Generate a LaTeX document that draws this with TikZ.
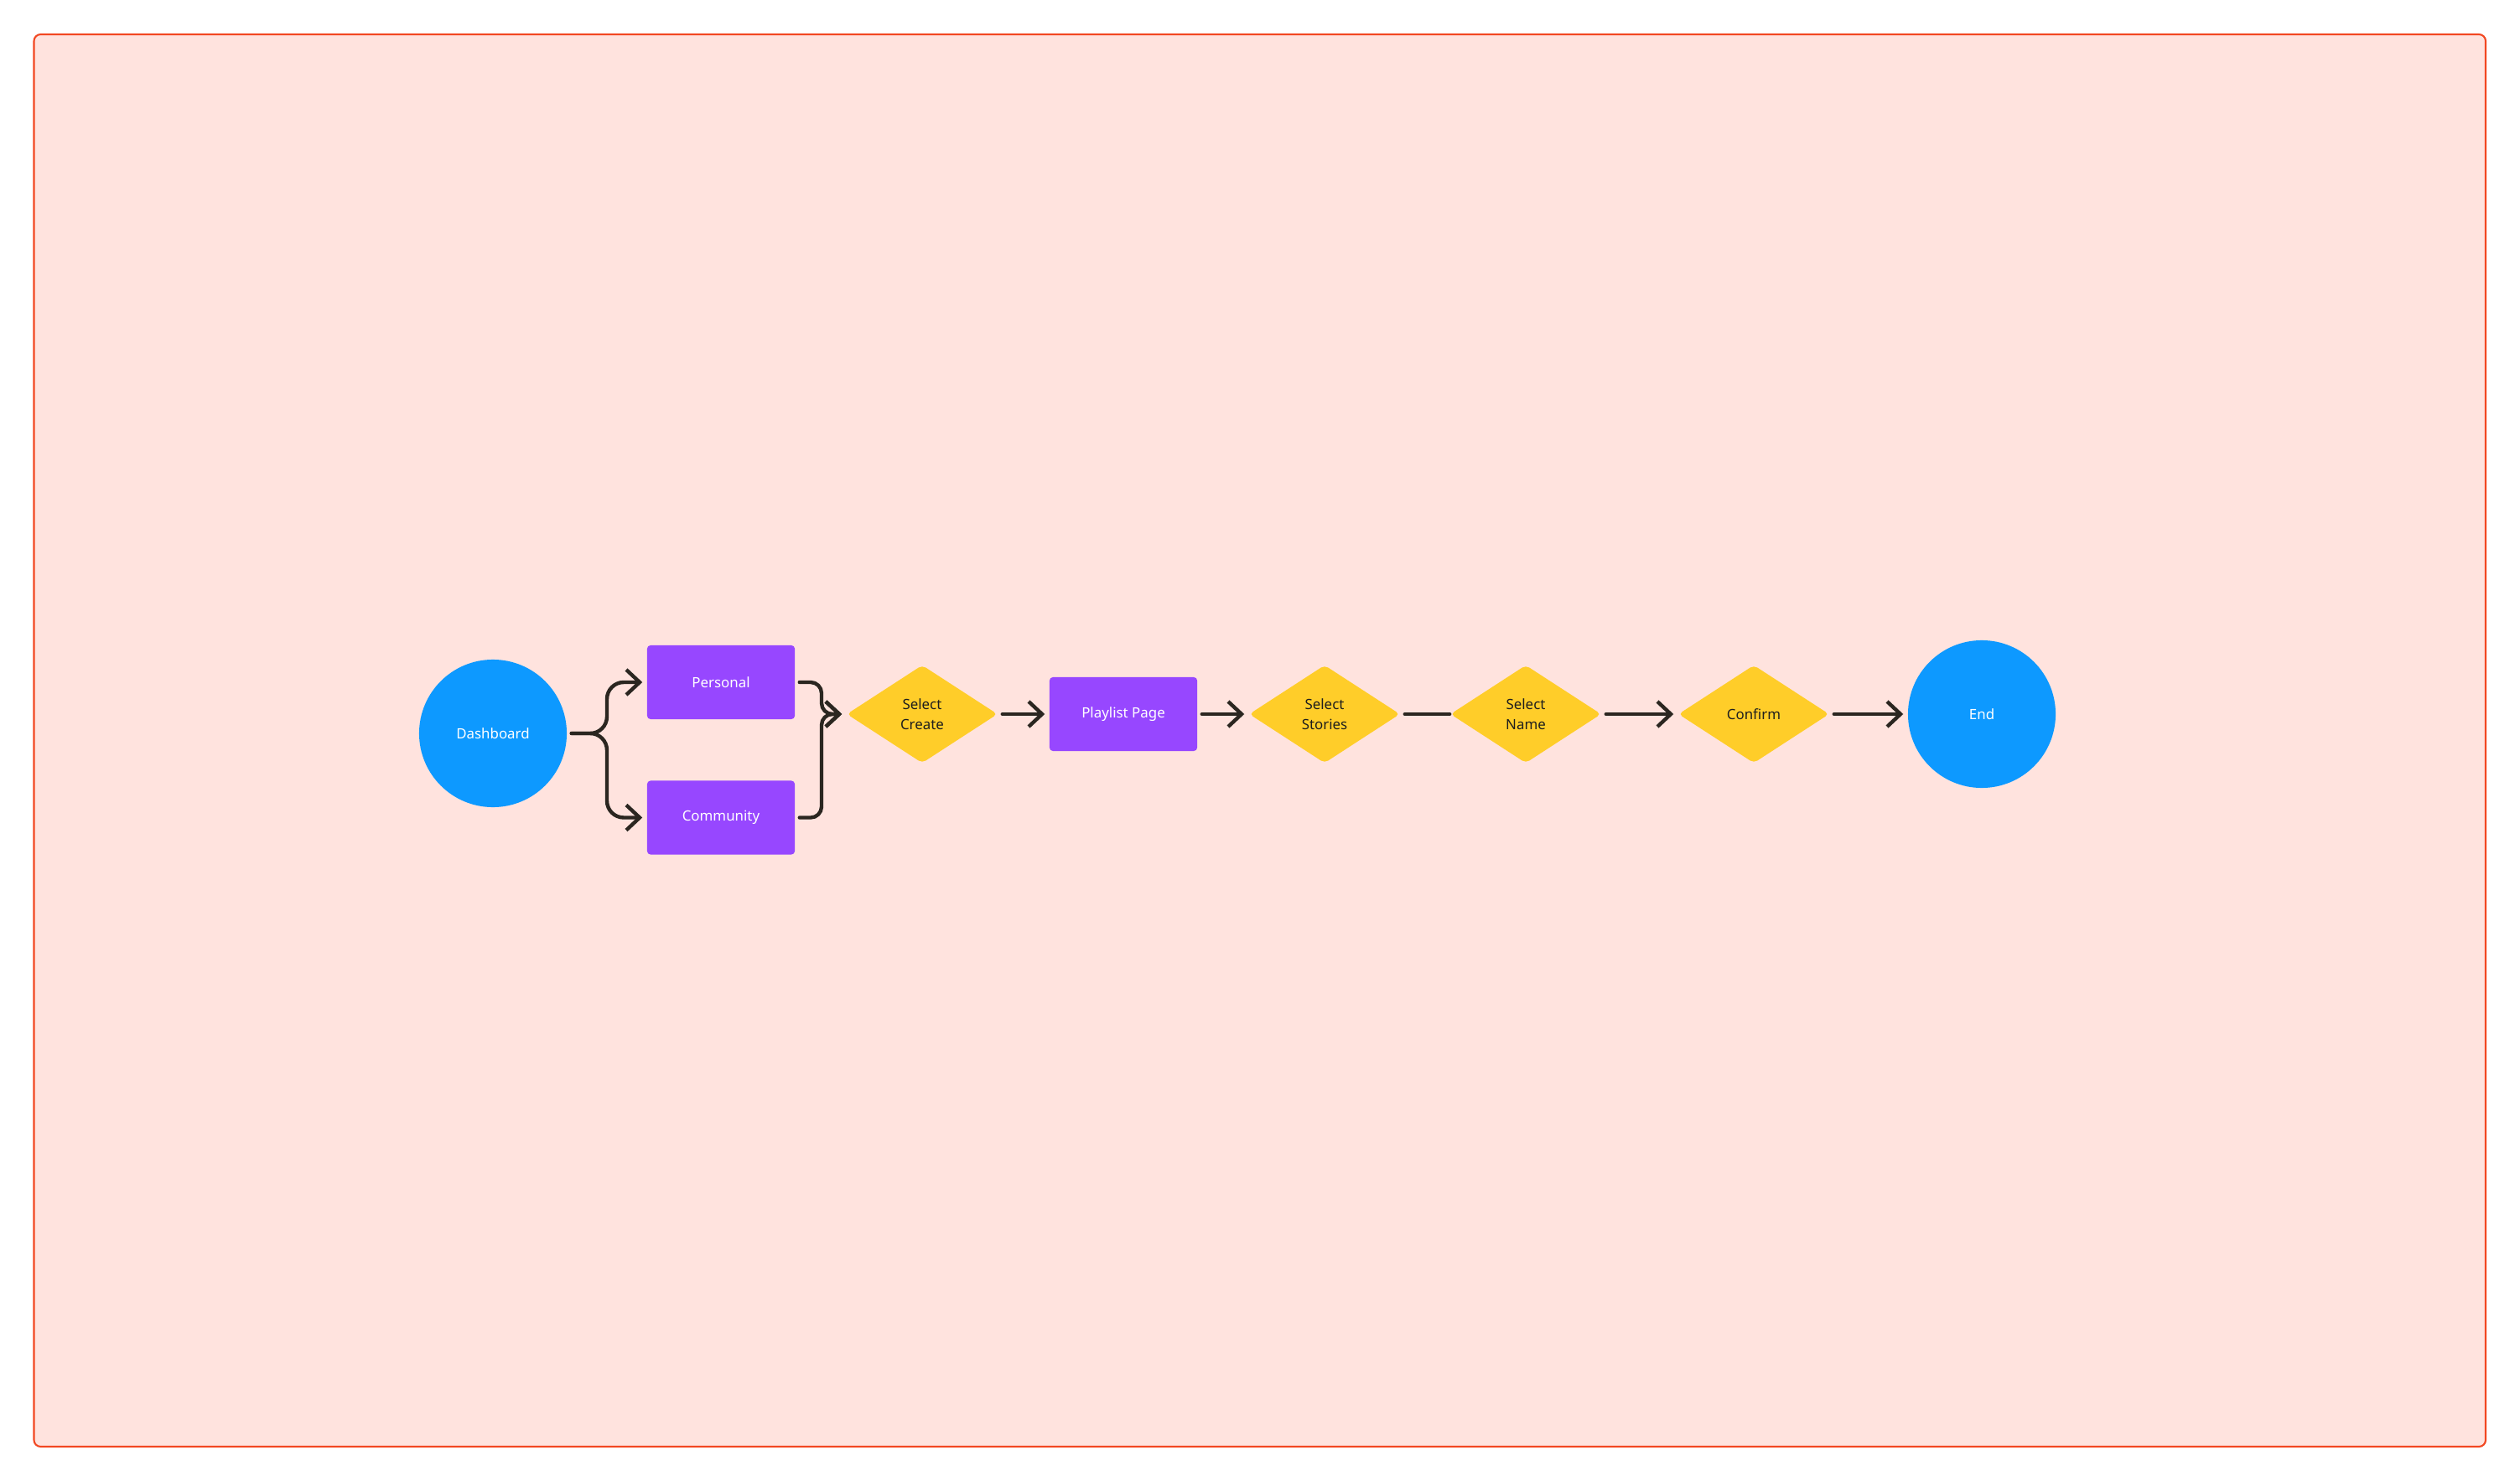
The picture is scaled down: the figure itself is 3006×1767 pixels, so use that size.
\documentclass[tikz,border=0pt]{standalone}
\usepackage{fontspec}
\setmainfont{Noto Sans}
\usetikzlibrary{arrows.meta,shapes.geometric}
\definecolor{bgpink}{HTML}{FFE3DE}
\definecolor{framecol}{HTML}{F24822}
\definecolor{fblue}{HTML}{0D99FF}
\definecolor{fviolet}{HTML}{9747FF}
\definecolor{fyellow}{HTML}{FFCD29}
\definecolor{ink}{HTML}{2B2620}
\definecolor{dtext}{HTML}{1E1E1E}
\begin{document}
\begin{tikzpicture}[x=0.01cm,y=-0.01cm,
 lbl/.style={font=\fontsize{4.8pt}{6.8pt}\selectfont, align=center},
 circ/.style={lbl, circle, fill=fblue, text=white, minimum size=1.76cm, inner sep=0pt},
 box/.style={lbl, rectangle, fill=fviolet, text=white, minimum width=1.76cm, minimum height=0.88cm, rounded corners=0.04cm, inner sep=0pt},
 dia/.style={lbl, diamond, fill=fyellow, text=dtext, minimum width=1.80cm, minimum height=1.17cm, aspect=1.54, inner sep=0pt, rounded corners=0.05cm},
 conn/.style={draw=ink, line width=1.25pt, line cap=round, line join=round, -{Straight Barb[length=1.6mm,width=3mm]}, shorten <=0.05cm, shorten >=0.05cm},
 plain/.style={draw=ink, line width=1.25pt, line cap=round, shorten <=0.05cm}
]
\useasboundingbox (0,0) rectangle (3006,1767);
\fill[white] (0,0) rectangle (3006,1767);
\path[fill=bgpink, draw=framecol, line width=0.6pt, rounded corners=0.08cm] (40.5,41) rectangle (2965,1726);

\node[circ] (dash) at (588,875) {Dashboard};
\node[box] (pers) at (860,814) {Personal};
\node[box] (comm) at (860,975.5) {Community};
\node[dia] (sc) at (1100,852) {Select\\Create};
\node[box] (pp) at (1340,852) {Playlist Page};
\node[dia] (ss) at (1580,852) {Select\\Stories};
\node[dia] (sn) at (1820,852) {Select\\Name};
\node[dia] (cf) at (2092,852) {Confirm};
\node[circ] (end) at (2364,852) {End};

\coordinate (fL) at (724,875);
\coordinate (fR) at (980,852);

\draw[conn, rounded corners=0.2cm] (dash.east) -- (dash.east -| fL) |- (pers.west);
\draw[conn, rounded corners=0.2cm] (dash.east) -- (dash.east -| fL) |- (comm.west);
\draw[conn, rounded corners=0.13cm] (pers.east) -- (pers.east -| fR) |- (sc.west);
\draw[conn, rounded corners=0.13cm] (comm.east) -- (comm.east -| fR) |- (sc.west);
\draw[conn] (sc.east) -- (pp.west);
\draw[conn] (pp.east) -- (ss.west);
\draw[plain] (ss.east) -- (sn.west);
\draw[conn] (sn.east) -- (cf.west);
\draw[conn] (cf.east) -- (end.west);
\end{tikzpicture}
\end{document}
